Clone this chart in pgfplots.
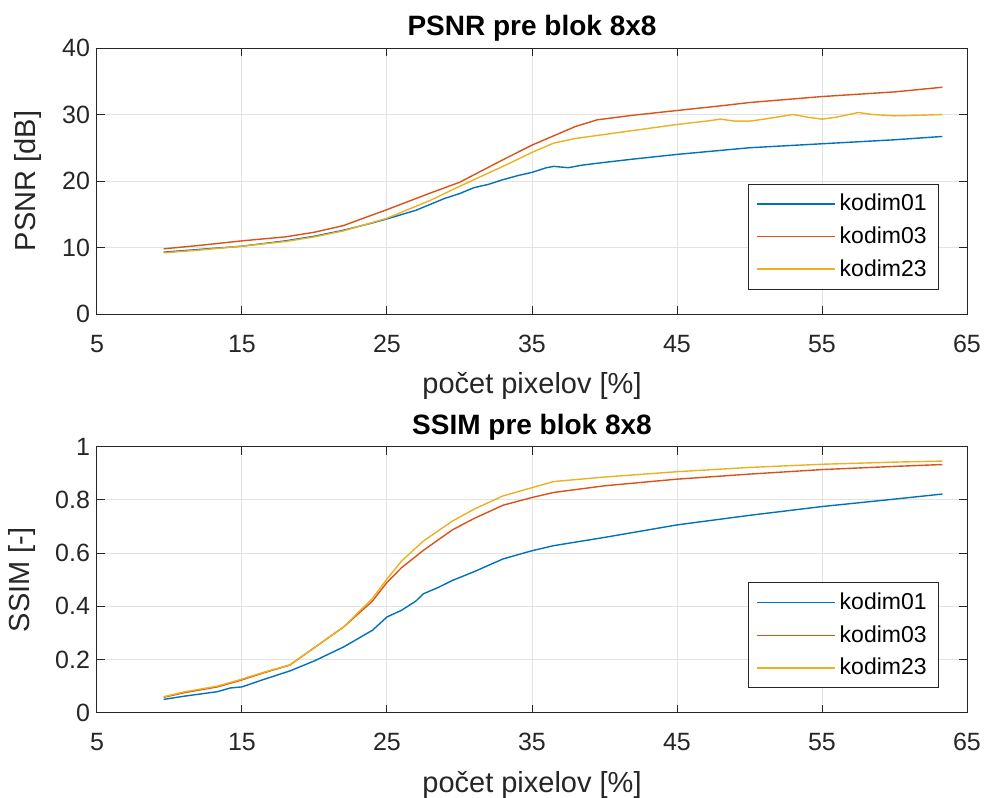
\documentclass[border=0pt]{standalone}
\usepackage{fontspec}
\setmainfont{Liberation Sans}
\usepackage{pgfplots}
\pgfplotsset{compat=1.18}
\definecolor{mblue}{rgb}{0,0.447,0.741}
\definecolor{mred}{rgb}{0.85,0.325,0.098}
\definecolor{myellow}{rgb}{0.929,0.694,0.125}
\definecolor{axgray}{rgb}{0.15,0.15,0.15}
\pgfplotsset{
  mstyle/.style={
    scale only axis, width=435pt, height=133pt,
    xmin=5, xmax=65, xtick={5,15,...,65},
    axis line style={axgray, line width=0.5pt},
    tick style={axgray, line width=0.5pt},
    major tick length=4pt, tick pos=both, tick align=inside,
    grid=major, major grid style={gray!22, line width=0.5pt},
    tick label style={font=\fontsize{12.5}{14}\selectfont, text=axgray},
    xticklabel style={anchor=base, yshift=-19pt},
    label style={font=\fontsize{14.5}{16}\selectfont, text=axgray},
    xlabel style={at={(axis description cs:0.5,0)}, anchor=center, yshift=-36pt},
    /pgf/number format/assume math mode=true,
    xlabel={počet pixelov [\%]},
    legend style={anchor=north east, draw=axgray, line width=0.5pt,
      font=\fontsize{11.5}{13}\selectfont, row sep=2.5pt, inner xsep=4pt, inner ysep=3pt},
    legend cell align=left,
    legend image code/.code={\draw[mark repeat=2,mark phase=2,##1] plot coordinates {(0pt,0pt) (19.5pt,0pt) (39pt,0pt)};},
  }
}
\tikzset{ttl/.style={font=\fontsize{14}{16}\selectfont\bfseries, anchor=base, yshift=6.3pt, inner sep=0pt}}
\begin{document}
\begin{tikzpicture}
\useasboundingbox (-48.5pt,-241.5pt) rectangle (443.5pt,157pt);
\begin{axis}[mstyle, name=top, at={(0,0)}, anchor=south west,
  ymin=0, ymax=40, ytick={0,10,...,40},
  legend style={at={(0.968,0.4905)}},
  ylabel={PSNR [dB]},
  ylabel style={at={(axis description cs:0,0.5)}, anchor=center, yshift=34.25pt}]
\addplot[mblue, line width=0.7pt] coordinates {(9.6,9.3)(12,9.7)(15,10.2)(18,11.0)(20,11.7)(22,12.6)(24,13.7)(25,14.3)(27,15.6)(28,16.5)(29,17.4)(30,18.1)(31,19.0)(32,19.5)(33,20.2)(34,20.8)(35,21.3)(36,22.0)(36.5,22.2)(37.5,22.0)(38.5,22.4)(40,22.8)(42,23.3)(45,24.0)(50,25.0)(55,25.6)(60,26.2)(63.3,26.7)};
\addlegendentry{kodim01}
\addplot[mred, line width=0.7pt] coordinates {(9.6,9.8)(12,10.3)(15,11.0)(18,11.6)(20,12.3)(22,13.3)(25,15.7)(28,18.2)(30,19.8)(33,23.2)(35,25.4)(36.5,26.8)(38,28.2)(39.5,29.2)(42,29.9)(45,30.6)(48,31.3)(50,31.8)(55,32.7)(60,33.4)(63.3,34.1)};
\addlegendentry{kodim03}
\addplot[myellow, line width=0.7pt] coordinates {(9.6,9.2)(12,9.6)(15,10.2)(18,10.9)(20,11.6)(22,12.5)(25,14.4)(28,17.1)(30,19.2)(33,22.2)(35,24.3)(36.5,25.7)(38,26.4)(40,27.0)(42,27.6)(45,28.5)(47,29.0)(48,29.3)(49,29.0)(50,29.0)(51,29.3)(53,30.0)(54,29.6)(55,29.3)(56,29.6)(57.5,30.3)(58.5,30.0)(60,29.8)(62,29.9)(63.3,30.0)};
\addlegendentry{kodim23}
\end{axis}
\node[ttl] at (top.north) {PSNR pre blok 8x8};
\begin{axis}[mstyle, name=bot, at={(0,-199.35pt)}, anchor=south west,
  ymin=0, ymax=1, ytick={0,0.2,...,1.01},
  yticklabels={0,0.2,0.4,0.6,0.8,1},
  legend style={at={(0.968,0.49)}},
  ylabel={SSIM [-]},
  ylabel style={at={(axis description cs:0,0.5)}, anchor=center, yshift=37.5pt}]
\addplot[mblue, line width=0.7pt] coordinates {(9.6,0.05)(11,0.062)(13.3,0.079)(14.2,0.093)(15,0.097)(16.5,0.125)(18.3,0.157)(20,0.195)(22,0.247)(24,0.31)(25,0.36)(26,0.385)(27,0.42)(27.5,0.447)(28.5,0.47)(29.5,0.497)(31,0.53)(33,0.578)(35,0.609)(36.5,0.628)(40,0.659)(45,0.706)(50,0.742)(55,0.775)(60,0.803)(63.3,0.822)};
\addlegendentry{kodim01}
\addplot[mred, line width=0.7pt] coordinates {(9.6,0.058)(11,0.075)(13.3,0.097)(14.8,0.12)(16.5,0.15)(18.3,0.179)(20,0.245)(22,0.322)(24,0.42)(25,0.49)(26,0.545)(27.5,0.61)(29.5,0.687)(31,0.73)(33,0.78)(35,0.809)(36.5,0.828)(40,0.853)(45,0.878)(50,0.897)(55,0.914)(60,0.926)(63.3,0.933)};
\addlegendentry{kodim03}
\addplot[myellow, line width=0.7pt] coordinates {(9.6,0.06)(11,0.078)(13.3,0.10)(14.8,0.123)(16.5,0.152)(18.3,0.18)(20,0.245)(22,0.322)(24,0.43)(25,0.503)(26,0.57)(27.5,0.645)(29.5,0.72)(31,0.765)(33,0.815)(35,0.846)(36.5,0.869)(40,0.886)(45,0.906)(50,0.922)(55,0.934)(60,0.942)(63.3,0.946)};
\addlegendentry{kodim23}
\end{axis}
\node[ttl] at (bot.north) {SSIM pre blok 8x8};
\end{tikzpicture}
\end{document}
